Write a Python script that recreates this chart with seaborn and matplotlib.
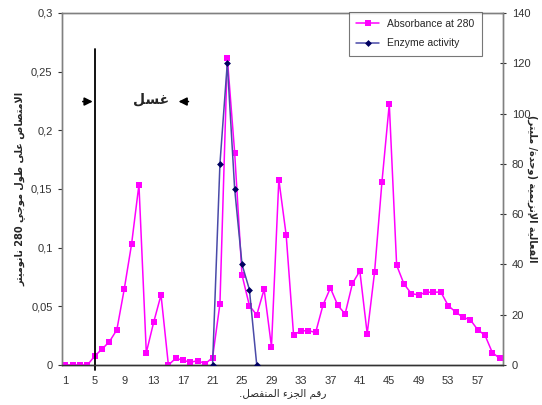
import numpy as np
import pandas as pd
import matplotlib
matplotlib.use('Agg')
import matplotlib.pyplot as plt
from matplotlib.ticker import FuncFormatter, MultipleLocator
import seaborn as sns

# 数据：分离组分编号、280nm吸光度、酶活性
fractions = list(range(1, 61))
absorbance = [0, 0, 0, 0, 0.0077, 0.0136, 0.020, 0.030, 0.0645, 0.103,
              0.1537, 0.0105, 0.0364, 0.0597, 0, 0.0057, 0.004, 0.0023, 0.0037, 0.001,
              0.0063, 0.052, 0.262, 0.181, 0.0767, 0.0506, 0.0426, 0.0645, 0.0156, 0.158,
              0.1105, 0.0256, 0.029, 0.0293, 0.0277, 0.0511, 0.0656, 0.0509, 0.0435, 0.0696,
              0.0801, 0.0267, 0.079, 0.1557, 0.2224, 0.085, 0.069, 0.0608, 0.0597, 0.062,
              0.062, 0.0622, 0.0506, 0.0452, 0.0406, 0.0386, 0.0301, 0.0253, 0.0105, 0.0057]
enzyme_fractions = [21, 22, 23, 24, 25, 26, 27]
enzyme_activity = [0, 80, 120, 70, 40, 30, 0]
x_tick_labels = list(range(1, 58, 4))

# 阿拉伯文字形表（孤立、词尾、词首、词中）
FORMS = {
    'ء': ('\uFE80', None, None, None),
    'إ': ('\uFE87', '\uFE88', None, None),
    'ا': ('\uFE8D', '\uFE8E', None, None),
    'ة': ('\uFE93', '\uFE94', None, None),
    'ت': ('\uFE95', '\uFE96', '\uFE97', '\uFE98'),
    'ج': ('\uFE9D', '\uFE9E', '\uFE9F', '\uFEA0'),
    'ح': ('\uFEA1', '\uFEA2', '\uFEA3', '\uFEA4'),
    'د': ('\uFEA9', '\uFEAA', None, None),
    'ر': ('\uFEAD', '\uFEAE', None, None),
    'ز': ('\uFEAF', '\uFEB0', None, None),
    'س': ('\uFEB1', '\uFEB2', '\uFEB3', '\uFEB4'),
    'ص': ('\uFEB9', '\uFEBA', '\uFEBB', '\uFEBC'),
    'ط': ('\uFEC1', '\uFEC2', '\uFEC3', '\uFEC4'),
    'ع': ('\uFEC9', '\uFECA', '\uFECB', '\uFECC'),
    'غ': ('\uFECD', '\uFECE', '\uFECF', '\uFED0'),
    'ف': ('\uFED1', '\uFED2', '\uFED3', '\uFED4'),
    'ق': ('\uFED5', '\uFED6', '\uFED7', '\uFED8'),
    'ل': ('\uFEDD', '\uFEDE', '\uFEDF', '\uFEE0'),
    'م': ('\uFEE1', '\uFEE2', '\uFEE3', '\uFEE4'),
    'ن': ('\uFEE5', '\uFEE6', '\uFEE7', '\uFEE8'),
    'و': ('\uFEED', '\uFEEE', None, None),
    'ى': ('\uFEEF', '\uFEF0', None, None),
    'ي': ('\uFEF1', '\uFEF2', '\uFEF3', '\uFEF4'),
}
LAM_ALEF = {'ا': ('\uFEFB', '\uFEFC'), 'إ': ('\uFEF9', '\uFEFA')}
MIRROR = {'(': ')', ')': '('}


def shape_arabic(text):
    """
    :function: 简单的阿拉伯文连写和从右到左排列
    """
    chars = list(text)
    # 先处理 lam-alef 连字
    merged = []
    i = 0
    while i < len(chars):
        if chars[i] == 'ل' and i + 1 < len(chars) and chars[i + 1] in LAM_ALEF:
            merged.append(('LA', chars[i + 1]))
            i += 2
        else:
            merged.append(('C', chars[i]))
            i += 1

    def joins_next(item):
        kind, c = item
        if kind == 'LA':
            return False
        f = FORMS.get(c)
        return f is not None and f[2] is not None

    def joins_prev(item):
        kind, c = item
        if kind == 'LA':
            return True
        f = FORMS.get(c)
        return f is not None and f[1] is not None

    out = []
    for k, item in enumerate(merged):
        kind, c = item
        prev_j = k > 0 and joins_next(merged[k - 1]) and joins_prev(item)
        if kind == 'LA':
            out.append(LAM_ALEF[c][1] if prev_j else LAM_ALEF[c][0])
            continue
        if c not in FORMS:
            out.append(c)
            continue
        iso, fin, ini, med = FORMS[c]
        next_j = k + 1 < len(merged) and joins_next(item) and joins_prev(merged[k + 1])
        if prev_j and next_j:
            out.append(med)
        elif prev_j:
            out.append(fin)
        elif next_j:
            out.append(ini)
        else:
            out.append(iso)
    shaped = ''.join(out)

    # 从右到左：数字保持原顺序
    tokens = []
    for ch in shaped:
        is_digit = ch.isdigit()
        if tokens and tokens[-1][0] == is_digit:
            tokens[-1][1] += ch
        else:
            tokens.append([is_digit, ch])
    visual = ''
    for is_digit, tok in reversed(tokens):
        if is_digit:
            visual += tok
        else:
            visual += ''.join(MIRROR.get(c, c) for c in reversed(tok))
    return visual


sns.set_style('white')
plt.rcParams['font.family'] = ['Liberation Sans', 'DejaVu Sans']

df_abs = pd.DataFrame({'fraction': fractions, 'absorbance': absorbance})
df_enz = pd.DataFrame({'fraction': enzyme_fractions, 'activity': enzyme_activity})

fig = plt.figure(figsize=(5.42, 4.05), dpi=100)
ax = fig.add_axes([0.1137, 0.0988, 0.8151, 0.8692])
ax2 = ax.twinx()

sns.lineplot(data=df_abs, x='fraction', y='absorbance', ax=ax, color='#FF00FF',
             marker='s', markersize=4.5, markeredgewidth=0, linewidth=1.1,
             label='Absorbance at 280', legend=False, zorder=3)
sns.lineplot(data=df_enz, x='fraction', y='activity', ax=ax2, color='#4a4aa8',
             marker='D', markersize=3.5, markerfacecolor='#000060', markeredgewidth=0,
             linewidth=1.1, label='Enzyme activity', legend=False, zorder=3)

ax.set_xlim(0.5, 60.5)
ax.set_ylim(0, 0.3)
ax2.set_ylim(0, 140)
ax.yaxis.set_major_locator(MultipleLocator(0.05))
ax2.yaxis.set_major_locator(MultipleLocator(20))
ax.yaxis.set_major_formatter(FuncFormatter(lambda v, p: ('%g' % round(v, 3)).replace('.', ',')))

ax.set_xticks(x_tick_labels)
ax.set_xticklabels([str(v) for v in x_tick_labels])
ax.set_xticks(np.arange(0.5, 61, 1), minor=True)
ax.tick_params(axis='x', which='major', length=0, labelsize=8, pad=8, colors='#333333')
ax.tick_params(axis='x', which='minor', length=5, direction='inout', width=0.8, color='#555555')
ax.tick_params(axis='y', length=3, direction='out', labelsize=8, colors='#333333', left=True)
ax2.tick_params(axis='y', length=5, direction='inout', labelsize=8, colors='#333333', right=True)

for a in (ax, ax2):
    for name, sp in a.spines.items():
        sp.set_color('#808080')
        sp.set_linewidth(1)
ax.spines['bottom'].set_color('#333333')
ax2.spines['bottom'].set_color('#333333')

# 洗脱分界线和“غسل”标注
ax.plot([5, 5], [-0.004, 0.269], color='black', linewidth=1.3, zorder=4, clip_on=False)
ax.annotate('', xy=(5.1, 0.2245), xytext=(3.0, 0.2245),
            arrowprops=dict(arrowstyle='-|>', color='black', lw=1.2, mutation_scale=12))
ax.annotate('', xy=(16.0, 0.2245), xytext=(18.1, 0.2245),
            arrowprops=dict(arrowstyle='-|>', color='black', lw=1.2, mutation_scale=12))
ax.text(12.6, 0.226, shape_arabic('غسل'), family=['DejaVu Sans'], fontsize=10,
        fontweight='bold', ha='center', va='center')

ax.set_xlabel(shape_arabic('رقم الجزء المنفصل.'), family=['DejaVu Sans'], fontsize=7.5, labelpad=2)
ax.set_ylabel(shape_arabic('الامتصاص على طول موجي 280 نانوميتر'), family=['DejaVu Sans'],
              fontsize=7, fontweight='bold', labelpad=4)
ax2.set_ylabel(shape_arabic('الفعالية الإنزيمية (وحدة/ مليتر)'), family=['DejaVu Sans'],
               fontsize=7, fontweight='bold', rotation=270, labelpad=5)

h1, l1 = ax.get_legend_handles_labels()
h2, l2 = ax2.get_legend_handles_labels()
leg = ax2.legend(h1 + h2, l1 + l2, loc='upper left', bbox_to_anchor=(0.65, 1.004),
                 fontsize=7.5, frameon=True, fancybox=False, edgecolor='#555555',
                 borderpad=0.7, handlelength=2.2, labelspacing=0.9, borderaxespad=0)
leg.get_frame().set_linewidth(0.8)

fig.savefig('out.png', dpi=100)
